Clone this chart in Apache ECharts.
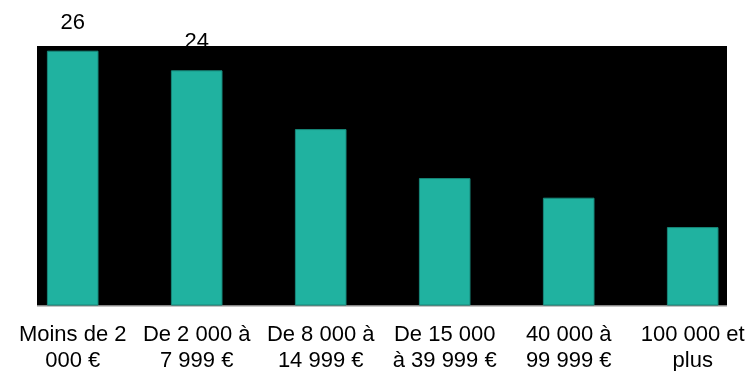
<!DOCTYPE html>
<html>
<head>
<meta charset="utf-8">
<script src="https://cdn.jsdelivr.net/npm/echarts@6/dist/echarts.min.js"></script>
<style>html,body{margin:0;padding:0;background:#fff}#c{width:753px;height:371px}</style>
</head>
<body>
<div id="c"></div>
<script>
const categories = ["Moins de 2\n000 €", "De 2 000 à\n7 999 €", "De 8 000 à\n14 999 €", "De 15 000\nà 39 999 €", "40 000 à\n99 999 €", "100 000 et\nplus"];
const values = [26, 24, 18, 13, 11, 8];

const chart = echarts.init(document.getElementById('c'));
chart.setOption({
  animation: false,
  textStyle: { fontFamily: 'Liberation Sans, Arial, sans-serif' },
  grid: { left: 10.7, right: -1.7, top: 11.5, bottom: 65.5, containLabel: false, outerBoundsMode: 'none' },
  graphic: [
    { type: 'rect', z: 1, shape: { x: 37, y: 46, width: 690, height: 259.5 }, style: { fill: '#000' } },
    { type: 'line', z: 1, shape: { x1: 37, y1: 306, x2: 727, y2: 306 }, style: { stroke: '#8c8c8c', lineWidth: 1 } }
  ],
  xAxis: {
    type: 'category',
    data: categories,
    axisLine: { show: false },
    axisTick: { show: false },
    axisLabel: {
      interval: 0,
      margin: 16,
      fontSize: 22,
      lineHeight: 26,
      color: '#000',
      fontFamily: 'Liberation Sans, Arial, sans-serif'
    }
  },
  yAxis: { type: 'value', min: 0, max: 30, show: false, splitLine: { show: false } },
  series: [
    {
      type: 'bar', z: 0, data: values, barWidth: 51.6, barGap: '-100%',
      itemStyle: { color: 'rgba(0,0,0,0)' },
      label: { show: true, position: 'top', distance: 17, fontSize: 22, color: '#000', fontFamily: 'Liberation Sans, Arial, sans-serif' },
      silent: true
    },
    {
      type: 'bar', z: 2, data: values, barWidth: 51.6, barGap: '-100%',
      itemStyle: { color: '#20b2a0', borderColor: '#17887a', borderWidth: 1 }
    }
  ]
});
</script>
</body>
</html>
